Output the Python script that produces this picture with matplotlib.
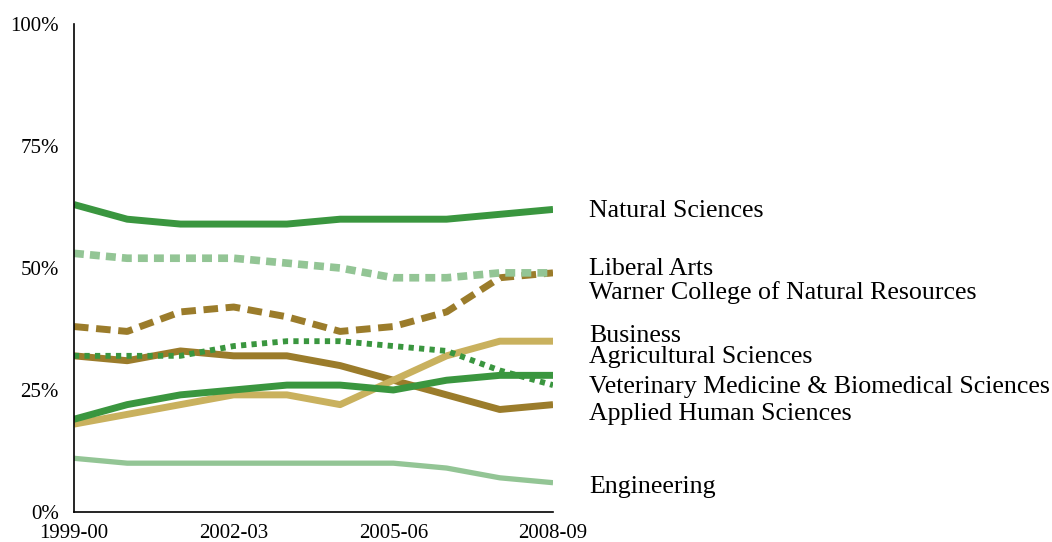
import matplotlib
matplotlib.use("Agg")
import matplotlib.pyplot as plt

years = ["1999-00", "2000-01", "2001-02", "2002-03", "2003-04",
         "2004-05", "2005-06", "2006-07", "2007-08", "2008-09"]

natural_sciences = [63, 60, 59, 59, 59, 60, 60, 60, 61, 62]
liberal_arts = [53, 52, 52, 52, 51, 50, 48, 48, 49, 49]
warner = [38, 37, 41, 42, 40, 37, 38, 41, 48, 49]
business = [18, 20, 22, 24, 24, 22, 27, 32, 35, 35]
agricultural = [19, 22, 24, 25, 26, 26, 25, 27, 28, 28]
vet_med = [32, 32, 32, 34, 35, 35, 34, 33, 29, 26]
applied_human = [32, 31, 33, 32, 32, 30, 27, 24, 21, 22]
engineering = [11, 10, 10, 10, 10, 10, 10, 9, 7, 6]

# label name, label height (in %) to keep the end labels from colliding
labels = [
    ("Natural Sciences", 61.6),
    ("Liberal Arts", 49.8),
    ("Warner College of Natural Resources", 45.0),
    ("Business", 36.0),
    ("Agricultural Sciences", 31.8),
    ("Veterinary Medicine & Biomedical Sciences", 25.6),
    ("Applied Human Sciences", 20.1),
    ("Engineering", 5.1),
]

DARK_GREEN = "#3a963f"
LIGHT_GREEN = "#93c595"
BROWN = "#9b7c2b"
TAN = "#c9b15e"

plt.rcParams["font.family"] = ["Liberation Serif", "DejaVu Serif"]

fig = plt.figure(figsize=(10.52, 5.42), dpi=100)
ax = fig.add_axes([0.0703, 0.0554, 0.4554, 0.9003])

x = list(range(len(years)))
lw = 5.0

ax.plot(x, engineering, color=LIGHT_GREEN, lw=3.8, solid_capstyle="butt")
ax.plot(x, warner, color=BROWN, lw=lw, dashes=(2.1, 1.1))
ax.plot(x, liberal_arts, color=LIGHT_GREEN, lw=lw + 0.5, dashes=(1.3, 0.8))
ax.plot(x, applied_human, color=BROWN, lw=lw, solid_capstyle="butt")
ax.plot(x, business, color=TAN, lw=lw, solid_capstyle="butt")
ax.plot(x, vet_med, color=DARK_GREEN, lw=lw - 0.8, dashes=(0.9, 0.9))
ax.plot(x, agricultural, color=DARK_GREEN, lw=lw, solid_capstyle="butt")
ax.plot(x, natural_sciences, color=DARK_GREEN, lw=lw, solid_capstyle="butt")

for name, ypos in labels:
    ax.text(9.68, ypos, name, fontsize=18.6, va="center", ha="left", clip_on=False)

ax.set_xlim(0, 9)
ax.set_ylim(0, 100)
ax.set_yticks([0, 25, 50, 75, 100])
ax.set_yticklabels(["0%", "25%", "50%", "75%", "100%"], fontsize=15)
ax.set_xticks([0, 3, 6, 9])
ax.set_xticklabels([years[i] for i in [0, 3, 6, 9]], fontsize=15)
ax.tick_params(axis="x", length=0, pad=9)
ax.tick_params(axis="y", length=0, pad=11)
for side in ["top", "right"]:
    ax.spines[side].set_visible(False)
for side in ["left", "bottom"]:
    ax.spines[side].set_linewidth(1.2)

fig.savefig("out.png", dpi=100)
